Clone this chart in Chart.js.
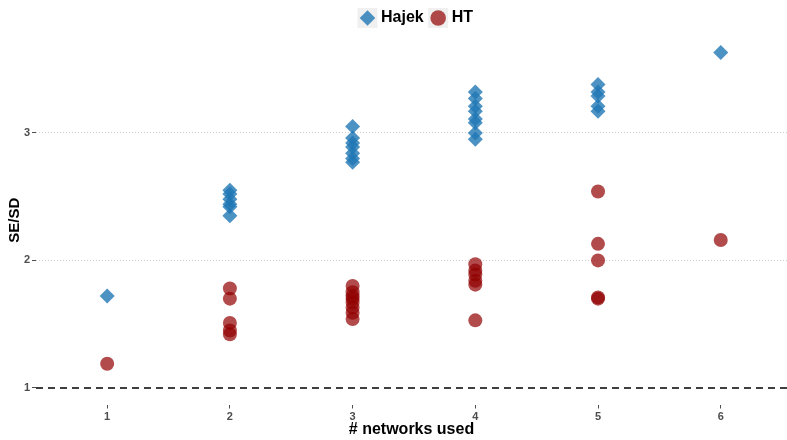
<!DOCTYPE html>
<html>
<head>
<meta charset="utf-8">
<style>
  html, body { margin: 0; padding: 0; background: #fff; overflow: hidden; }
  .chart-container { width: 787px; height: 440px; }
  canvas { display: block; }
</style>
</head>
<body>
<div class="chart-container">
    <canvas id="seChart" width="787" height="440"></canvas>
</div>

<script src="https://cdn.jsdelivr.net/npm/chart.js"></script>
<script>
    // values, one list per "# networks used"
    const networks = [1, 2, 3, 4, 5, 6];
    const hajekRatios = [
        [1.72],
        [2.55, 2.52, 2.48, 2.44, 2.42, 2.35],
        [3.05, 2.96, 2.92, 2.89, 2.84, 2.80, 2.77],
        [3.32, 3.27, 3.21, 3.17, 3.11, 3.08, 3.00, 2.95],
        [3.38, 3.32, 3.29, 3.21, 3.17],
        [3.63]
    ];
    const htRatios = [
        [1.19],
        [1.78, 1.70, 1.51, 1.45, 1.42],
        [1.80, 1.75, 1.72, 1.70, 1.67, 1.63, 1.59, 1.54],
        [1.97, 1.92, 1.89, 1.84, 1.81, 1.53],
        [2.54, 2.13, 2.00, 1.71, 1.70],
        [2.16]
    ];
    const yTicks = [1, 2, 3];
    const refValue = 1;
    const xRange = [0.42, 6.54];
    const yRange = [0.87, 3.76];

    const FONT = '"Liberation Sans", Arial, sans-serif';

    function toPoints(groups) {
        const pts = [];
        groups.forEach((vals, i) => {
            vals.forEach(v => pts.push({ x: networks[i], y: v }));
        });
        return pts;
    }

    // grey legend key backgrounds like ggplot, legend nudged to the panel centre
    const legendKeys = {
        id: 'legendKeys',
        afterLayout(chart) {
            if (chart.legend) {
                chart.legend.left += 6;
                chart.legend.right += 6;
            }
        },
        beforeDraw(chart) {
            const lg = chart.legend;
            if (!lg || !lg.legendHitBoxes) return;
            const ctx = chart.ctx;
            const bw = lg.options.labels.boxWidth;
            ctx.save();
            ctx.fillStyle = '#f0f0f0';
            lg.legendHitBoxes.forEach(hb => {
                const cx = hb.left + bw / 2;
                const cy = hb.top + hb.height / 2;
                ctx.fillRect(cx - 10, cy - 10, 20, 20);
            });
            ctx.restore();
        }
    };

    const ctx = document.getElementById('seChart');
    new Chart(ctx.getContext('2d'), {
        type: 'scatter',
        data: {
            datasets: [
                {
                    label: 'Hajek',
                    data: toPoints(hajekRatios),
                    pointStyle: 'rectRot',
                    pointRadius: 7.5,
                    pointHoverRadius: 7.5,
                    borderWidth: 0,
                    backgroundColor: 'rgba(31, 119, 180, 0.8)',
                    borderColor: 'rgba(31, 119, 180, 0.8)'
                },
                {
                    label: 'HT',
                    data: toPoints(htRatios),
                    pointStyle: 'circle',
                    pointRadius: 7,
                    pointHoverRadius: 7,
                    borderWidth: 0,
                    backgroundColor: 'rgba(146, 0, 0, 0.7)',
                    borderColor: 'rgba(146, 0, 0, 0.7)'
                },
                {
                    label: 'ref',
                    type: 'line',
                    data: [{ x: xRange[0], y: refValue }, { x: xRange[1], y: refValue }],
                    borderColor: '#000',
                    borderWidth: 1.5,
                    borderDash: [7, 5],
                    pointRadius: 0,
                    fill: false
                }
            ]
        },
        options: {
            responsive: false,
            animation: false,
            layout: { padding: { top: 1, left: 0, right: 0, bottom: 0 }, autoPadding: false },
            plugins: {
                tooltip: { enabled: false },
                legend: {
                    display: true,
                    position: 'top',
                    fullSize: false,
                    labels: {
                        usePointStyle: true,
                        boxWidth: 11,
                        boxHeight: 11,
                        padding: 9,
                        color: '#000',
                        font: { family: FONT, size: 16, weight: 'bold' },
                        filter: item => item.text !== 'ref'
                    }
                }
            },
            scales: {
                x: {
                    type: 'linear',
                    min: xRange[0],
                    max: xRange[1],
                    afterBuildTicks: scale => {
                        scale.ticks = networks.map(v => ({ value: v }));
                    },
                    afterFit: scale => { scale.height = 35.5; },
                    border: { display: false },
                    grid: {
                        drawOnChartArea: false,
                        drawTicks: true,
                        tickLength: 4,
                        tickColor: '#4d4d4d',
                        tickWidth: 1
                    },
                    ticks: {
                        padding: 2,
                        color: '#4d4d4d',
                        font: { family: FONT, size: 11, weight: 'bold' }
                    },
                    title: {
                        display: true,
                        text: '# networks used',
                        color: '#000',
                        padding: { top: 0, bottom: 1 },
                        font: { family: FONT, size: 16, weight: 'bold' }
                    }
                },
                y: {
                    min: yRange[0],
                    max: yRange[1],
                    afterBuildTicks: scale => {
                        scale.ticks = yTicks.map(v => ({ value: v }));
                    },
                    afterFit: scale => { scale.width = 36; },
                    border: { display: false, dash: [1, 2] },
                    grid: {
                        color: c => (c.tick && c.tick.value === refValue) ? 'rgba(0,0,0,0)' : '#cfcfcf',
                        lineWidth: 1,
                        drawTicks: true,
                        tickLength: 4,
                        tickColor: '#4d4d4d',
                        tickBorderDash: []
                    },
                    ticks: {
                        padding: 2,
                        color: '#4d4d4d',
                        font: { family: FONT, size: 11, weight: 'bold' }
                    },
                    title: {
                        display: true,
                        text: 'SE/SD',
                        color: '#000',
                        padding: { top: 6, bottom: 0 },
                        font: { family: FONT, size: 15, weight: 'bold' }
                    }
                }
            }
        },
        plugins: [legendKeys]
    });
</script>
</body>
</html>
